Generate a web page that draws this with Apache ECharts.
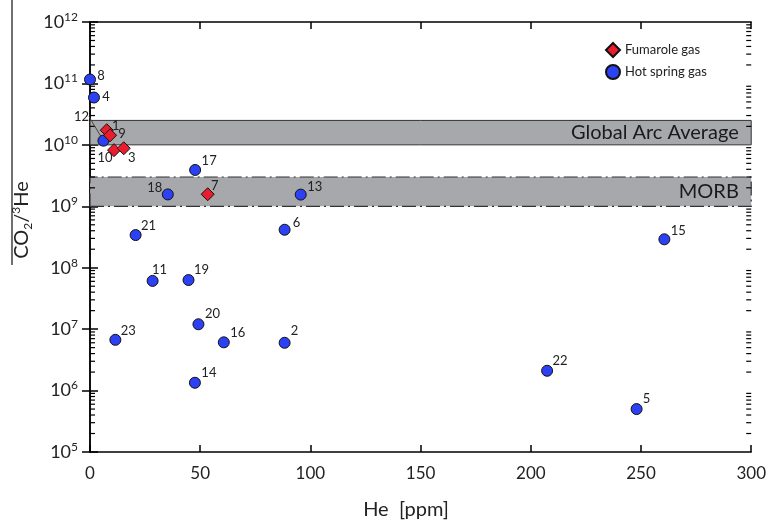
<!DOCTYPE html>
<html>
<head>
<meta charset="utf-8">
<script src="https://cdn.jsdelivr.net/npm/echarts@6/dist/echarts.min.js"></script>
<style>
html, body { margin: 0; padding: 0; background: #fff; }
#chart { width: 769px; height: 521px; }
</style>
</head>
<body>
<div id="chart"></div>
<script>
// sample numbers, He [ppm] and CO2/3He
const fumaroleIds = ['1', '9', '10', '3', '7'];
const fumaroleHe = [7.6, 9.1, 10.9, 15.3, 53.4];
const fumaroleRatio = [1.73e10, 1.43e10, 8.2e9, 8.8e9, 1.57e9];

const springIds = ['8', '4', '12', '17', '18', '13', '6', '21', '15', '11', '19', '20', '23', '16', '2', '14', '22', '5'];
const springHe = [0, 1.8, 6.1, 47.7, 35.3, 95.6, 88.3, 20.7, 260.6, 28.4, 44.7, 49.2, 11.5, 60.7, 88.3, 47.6, 207.4, 248];
const springRatio = [1.16e11, 5.9e10, 1.17e10, 3.9e9, 1.56e9, 1.55e9, 4.15e8, 3.4e8, 2.9e8, 6.1e7, 6.3e7, 1.2e7, 6.7e6, 6.1e6, 6.0e6, 1.34e6, 2.1e6, 5.0e5];

// reference bands
const arcBand = [1e10, 2.5e10];
const morbBand = [1e9, 3e9];
const bandNames = ['Global Arc Average', 'MORB'];

// log axis decades (min..max exponent)
const decades = [5, 6, 7, 8, 9, 10, 11, 12];

const FONT = 'Lato';

// where each sample number sits relative to its marker
const labelOffset = {
    '8': [11, -4], '4': [12, -1], '12': [-22, -24], '1': [9, -4], '9': [12, -2], '10': [-9, 8], '3': [8, 10],
    '17': [14, -9], '18': [-13, -7], '7': [7, -8], '13': [14, -8], '6': [12, -7], '21': [13, -9],
    '11': [7, -11], '19': [13, -10], '20': [14, -10], '23': [13, -9], '16': [14, -10], '2': [10, -12],
    '14': [14, -10], '15': [14, -8], '22': [13, -10], '5': [10, -10]
};

function buildPoints(ids, he, ratio) {
    return ids.map(function (id, i) {
        var item = { name: id, value: [he[i], ratio[i]] };
        if (id === '12') {
            item.labelLine = { show: true, lineStyle: { color: '#444', width: 1 } };
        }
        return item;
    });
}

function labelMover(ids) {
    return function (params) {
        var off = labelOffset[ids[params.dataIndex]] || [12, -9];
        return { dx: off[0], dy: off[1] };
    };
}

// minor ticks of the log axis: 2..9 x 10^n
var minorTicks = [];
for (var d = 0; d < decades.length - 1; d++) {
    for (var k = 2; k <= 9; k++) {
        minorTicks.push([0, k * Math.pow(10, decades[d])]);
    }
}

function pointLabel() {
    return {
        show: true,
        position: 'inside',
        formatter: '{b}',
        color: '#222',
        textBorderWidth: 0,
        fontSize: 13,
        fontFamily: FONT
    };
}

var axisColor = '#000';

var chart = echarts.init(document.getElementById('chart'));

var option = {
    animation: false,
    grid: { left: 90, right: 16, top: 22, bottom: 69 },
    legend: {
        data: ['Fumarole gas', 'Hot spring gas'],
        orient: 'vertical',
        left: 600,
        top: 37,
        itemWidth: 14,
        itemHeight: 14,
        itemGap: 6,
        textStyle: { fontSize: 13, fontFamily: FONT, color: '#222' }
    },
    xAxis: [{
        type: 'value',
        min: 0,
        max: 300,
        interval: 50,
        axisLine: { show: true, lineStyle: { color: axisColor, width: 1.5 } },
        axisTick: { show: true, inside: true, length: 7, lineStyle: { color: axisColor, width: 1.5 } },
        axisLabel: { margin: 13, fontSize: 17, fontFamily: FONT, color: '#222' },
        splitLine: { show: false }
    }, {
        type: 'value',
        position: 'top',
        min: 0,
        max: 300,
        interval: 50,
        axisLine: { show: true, lineStyle: { color: axisColor, width: 1.5 } },
        axisTick: { show: true, inside: true, length: 7, lineStyle: { color: axisColor, width: 1.5 } },
        axisLabel: { show: false },
        splitLine: { show: false }
    }],
    yAxis: [{
        type: 'log',
        min: 1e5,
        max: 1e12,
        splitNumber: 7,
        axisLine: { show: true, lineStyle: { color: axisColor, width: 1.5 } },
        axisTick: { show: true, inside: true, length: 8, lineStyle: { color: axisColor, width: 1.5 } },
        axisLabel: {
            margin: 12,
            formatter: function (v) {
                return '{b|10}{s|' + Math.round(Math.log10(v)) + '}';
            },
            rich: {
                b: { fontSize: 18, lineHeight: 22, fontFamily: FONT, color: '#222' },
                s: { fontSize: 12, lineHeight: 12, verticalAlign: 'top', fontFamily: FONT, color: '#222' }
            }
        },
        splitLine: { show: false }
    }, {
        type: 'log',
        position: 'right',
        min: 1e5,
        max: 1e12,
        splitNumber: 7,
        axisLine: { show: true, lineStyle: { color: axisColor, width: 1.5 } },
        axisTick: { show: true, inside: true, length: 8, lineStyle: { color: axisColor, width: 1.5 } },
        axisLabel: { show: false },
        splitLine: { show: false }
    }],
    graphic: [{
        type: 'line',
        shape: { x1: 12, y1: 0, x2: 12, y2: 265 },
        style: { stroke: '#111', lineWidth: 1.2 }
    }, {
        type: 'text',
        x: 22,
        y: 220,
        rotation: Math.PI / 2,
        style: {
            text: '{n|CO}{sub|2}{n|/}{sup|3}{n|He}',
            align: 'center',
            verticalAlign: 'middle',
            fill: '#222',
            rich: {
                n: { fontSize: 20, lineHeight: 24, fontFamily: FONT, fill: '#222' },
                sub: { fontSize: 12, lineHeight: 12, verticalAlign: 'bottom', fontFamily: FONT, fill: '#222' },
                sup: { fontSize: 12, lineHeight: 12, verticalAlign: 'top', fontFamily: FONT, fill: '#222' }
            }
        }
    }, {
        type: 'text',
        x: 406,
        y: 510,
        style: {
            text: 'He  [ppm]',
            align: 'center',
            verticalAlign: 'middle',
            fill: '#222',
            font: '20px Lato'
        }
    }],
    series: [{
        name: 'bands',
        type: 'scatter',
        data: [],
        z: 1,
        markArea: {
            silent: true,
            data: [
                [{
                    yAxis: arcBand[0],
                    name: bandNames[0],
                    itemStyle: { color: '#a7a8ab', borderColor: '#333', borderWidth: 1, borderType: 'solid' }
                }, { yAxis: arcBand[1] }],
                [{
                    yAxis: morbBand[0],
                    name: bandNames[1],
                    itemStyle: { color: '#a7a8ab', borderColor: '#333', borderWidth: 1.2, borderType: [14, 4, 2, 4] }
                }, { yAxis: morbBand[1] }]
            ],
            label: {
                show: true,
                position: 'insideRight',
                distance: 13,
                fontSize: 20,
                fontFamily: FONT,
                color: '#1a1a1a'
            }
        }
    }, {
        name: 'minor ticks',
        type: 'custom',
        silent: true,
        data: minorTicks,
        encode: { x: 0, y: 1 },
        renderItem: function (params, api) {
            var v = api.value(1);
            var l = api.coord([0, v]);
            var r = api.coord([300, v]);
            return {
                type: 'group',
                children: [
                    { type: 'line', shape: { x1: l[0], y1: l[1], x2: l[0] + 5, y2: l[1] }, style: { stroke: axisColor, lineWidth: 1.2 } },
                    { type: 'line', shape: { x1: r[0], y1: r[1], x2: r[0] - 5, y2: r[1] }, style: { stroke: axisColor, lineWidth: 1.2 } }
                ]
            };
        }
    }, {
        name: 'Fumarole gas',
        type: 'scatter',
        z: 4,
        symbol: 'diamond',
        symbolSize: 13,
        itemStyle: { color: '#ea1c2d', borderColor: '#111', borderWidth: 1, opacity: 1 },
        label: pointLabel(),
        labelLayout: labelMover(fumaroleIds),
        data: buildPoints(fumaroleIds, fumaroleHe, fumaroleRatio)
    }, {
        name: 'Hot spring gas',
        type: 'scatter',
        z: 3,
        symbol: 'circle',
        symbolSize: 11,
        itemStyle: { color: '#2b41f3', borderColor: '#111', borderWidth: 1, opacity: 1 },
        label: pointLabel(),
        labelLayout: labelMover(springIds),
        data: buildPoints(springIds, springHe, springRatio)
    }]
};

chart.setOption(option);
</script>
</body>
</html>
